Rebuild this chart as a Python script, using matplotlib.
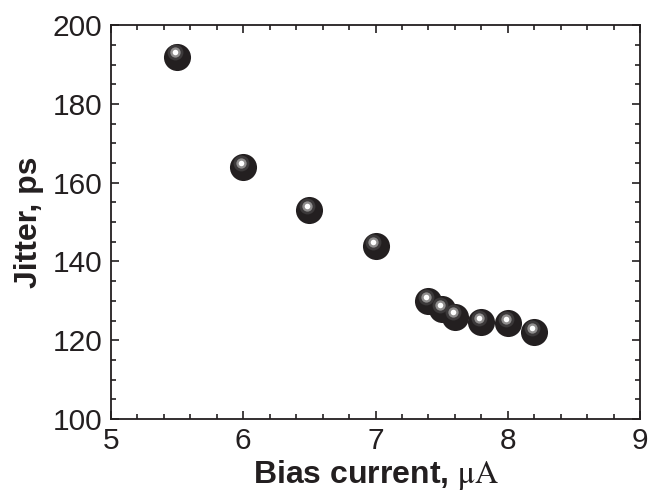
import matplotlib.pyplot as plt
from matplotlib.ticker import MultipleLocator
import matplotlib.transforms as mtransforms

plt.rcParams['font.family'] = ['Liberation Sans', 'DejaVu Sans']
plt.rcParams['mathtext.fontset'] = 'stix'

# data
bias_current = [5.5, 6.0, 6.5, 7.0, 7.4, 7.5, 7.6, 7.8, 8.0, 8.2]
jitter_ps = [192, 164, 153, 144, 130, 128, 126, 124.7, 124.3, 122]

fig = plt.figure(figsize=(6.52, 4.93), dpi=100)
ax = fig.add_axes([0.170, 0.150, 0.812, 0.799])

# shiny black balls: dark body, grey halo and white spot offset up-left
ball_dark = '#231f20'
offset = mtransforms.ScaledTranslation(-1.5 / 72, 3.0 / 72, fig.dpi_scale_trans)
shift = ax.transData + offset

ax.scatter(bias_current, jitter_ps, s=380, color=ball_dark, zorder=3, linewidths=0)
ax.scatter(bias_current, jitter_ps, s=130, color='#3c393a', zorder=4, linewidths=0,
           transform=shift)
ax.scatter(bias_current, jitter_ps, s=55, color='#8f8d8d', zorder=5, linewidths=0,
           transform=shift)
ax.scatter(bias_current, jitter_ps, s=16, color='white', zorder=6, linewidths=0,
           transform=shift)

ax.set_xlim(5, 9)
ax.set_ylim(100, 200)
ax.xaxis.set_major_locator(MultipleLocator(1))
ax.xaxis.set_minor_locator(MultipleLocator(0.2))
ax.yaxis.set_major_locator(MultipleLocator(20))
ax.yaxis.set_minor_locator(MultipleLocator(5))

ax.tick_params(which='both', direction='in', top=True, right=True,
               color='#231f20', width=1.2)
ax.tick_params(which='major', length=6, labelsize=21.5, labelcolor='#231f20', pad=6)
ax.tick_params(which='minor', length=3.5)
for sp in ax.spines.values():
    sp.set_linewidth(1.3)
    sp.set_color('#231f20')

ax.set_xlabel(r'Bias current, $\mathrm{\mu A}$', fontsize=23, fontweight='bold',
              color='#231f20', labelpad=2)
ax.set_ylabel('Jitter, ps', fontsize=23, fontweight='bold', color='#231f20',
              labelpad=6)

fig.savefig('out.png', dpi=100, facecolor='white')
